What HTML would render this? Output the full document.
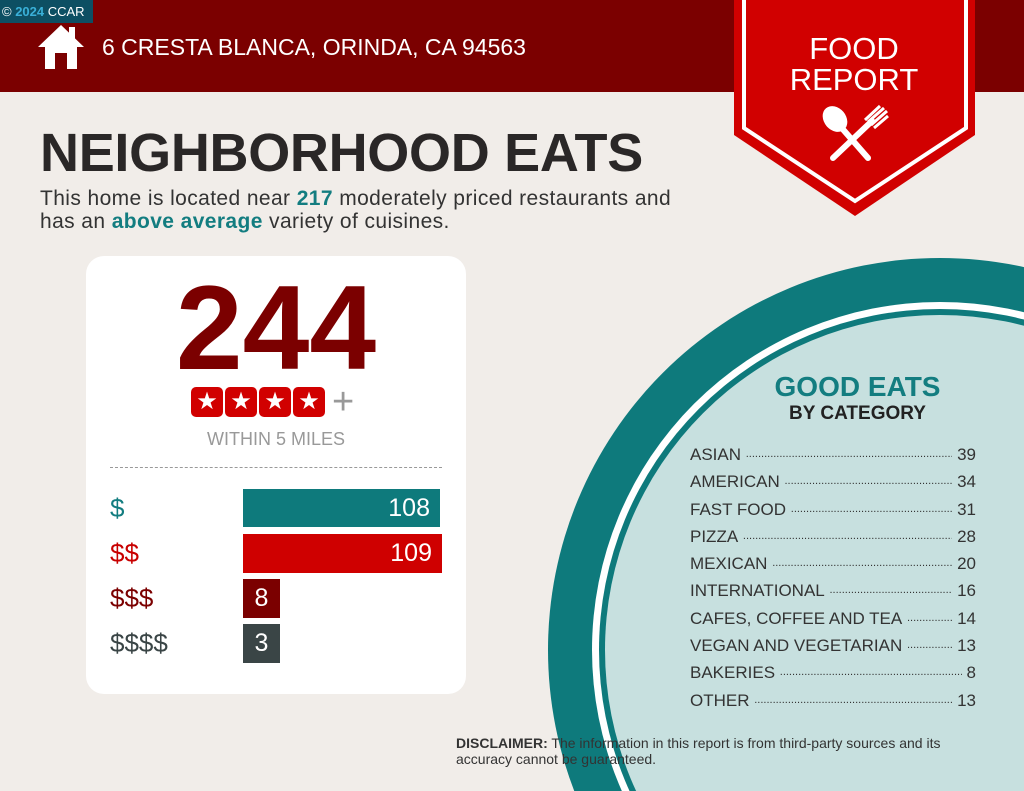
<!DOCTYPE html>
<html><head><meta charset="utf-8"><style>
*{margin:0;padding:0;box-sizing:border-box}
html,body{width:1024px;height:791px;overflow:hidden}
body{background:#f1ede9;font-family:"Liberation Sans",sans-serif;position:relative}
.a{position:absolute;white-space:nowrap}
</style></head><body>
<div class="a" style="left:0;top:0;width:1024px;height:92px;background:#7b0000"></div>
<div class="a" style="left:0;top:0;width:93px;height:23px;background:#0d4f63;color:#fff;font-size:13px;line-height:23px;padding-left:2px">© <b style="color:#3ab0d8">2024</b> CCAR</div>
<svg class="a" style="left:36px;top:23px" width="50" height="48" viewBox="0 0 50 48"><path d="M25 2 L48 24 L41 24 L41 46 L31 46 L31 30 L19 30 L19 46 L9 46 L9 24 L2 24 Z" fill="#fff"/><rect x="33" y="4" width="6" height="12" fill="#fff"/></svg>
<div class="a" style="left:102px;top:33px;color:#fff;font-size:23px;line-height:28px">6 CRESTA BLANCA, ORINDA, CA 94563</div>
<svg class="a" style="left:0;top:0" width="1024" height="791">
<polygon points="734,0 975,0 975,135 855,216 734,135" fill="#d10000"/>
<polyline points="744,0 744,128 855,201 966,128 966,0" fill="none" stroke="#fff" stroke-width="4"/>
<text x="854" y="59" fill="#fff" font-size="31" text-anchor="middle" font-family="Liberation Sans">FOOD</text>
<text x="854" y="90" fill="#fff" font-size="31" text-anchor="middle" font-family="Liberation Sans">REPORT</text>
<ellipse cx="835" cy="119" rx="11" ry="14" transform="rotate(-40 835 119)" fill="#fff"/>
<line x1="840" y1="126" x2="868" y2="158" stroke="#fff" stroke-width="6" stroke-linecap="round"/>
<line x1="872" y1="121" x2="833" y2="158" stroke="#fff" stroke-width="6" stroke-linecap="round"/>
<path d="M868 122 L884 108 M871 125 L887 111 M874 128 L888 116 M865 120 L880 106" stroke="#fff" stroke-width="3"/>
<circle cx="940" cy="650" r="392" fill="#0e7a7c"/>
<circle cx="940" cy="650" r="348" fill="#fff"/>
<circle cx="940" cy="650" r="341" fill="#0e7a7c"/>
<circle cx="940" cy="650" r="335" fill="#c7e0df"/>
</svg>
<div class="a" style="left:40px;top:122px;font-size:54px;font-weight:bold;color:#2a2727;letter-spacing:-0.3px">NEIGHBORHOOD EATS</div>
<div class="a" style="left:40px;top:187px;font-size:21px;line-height:23px;color:#333;letter-spacing:0.4px">This home is located near <b style="color:#137d80">217</b> moderately priced restaurants and<br>has an <b style="color:#137d80">above average</b> variety of cuisines.</div>
<div class="a" style="left:86px;top:256px;width:380px;height:438px;background:#fff;border-radius:18px"></div>
<div class="a" style="left:86px;top:268px;width:380px;text-align:center;font-size:120px;font-weight:bold;color:#7b0000;line-height:120px;letter-spacing:0px">244</div>
<div class="a" style="left:191px;top:387px;display:flex;gap:2px">
<div style="width:32px;height:30px;background:#d10000;border-radius:5px;color:#fff;font-size:24px;text-align:center;line-height:30px">★</div><div style="width:32px;height:30px;background:#d10000;border-radius:5px;color:#fff;font-size:24px;text-align:center;line-height:30px">★</div><div style="width:32px;height:30px;background:#d10000;border-radius:5px;color:#fff;font-size:24px;text-align:center;line-height:30px">★</div><div style="width:32px;height:30px;background:#d10000;border-radius:5px;color:#fff;font-size:24px;text-align:center;line-height:30px">★</div></div>
<div class="a" style="left:332px;top:380px;font-size:38px;color:#999;line-height:44px">+</div>
<div class="a" style="left:86px;top:429px;width:380px;text-align:center;font-size:18px;color:#999">WITHIN 5 MILES</div>
<div class="a" style="left:110px;top:467px;width:332px;border-top:1px dashed #999"></div>
<div class="a" style="left:110px;top:493px;font-size:26px;color:#137d80">$</div>
<div class="a" style="left:110px;top:538px;font-size:26px;color:#c80000">$$</div>
<div class="a" style="left:110px;top:583px;font-size:26px;color:#7b0000">$$$</div>
<div class="a" style="left:110px;top:628px;font-size:26px;color:#3a4546">$$$$</div>
<div class="a" style="left:243px;top:489px;width:197px;height:38px;background:#0e7a7c;color:#fff;font-size:25px;text-align:right;padding-right:10px;line-height:38px">108</div>
<div class="a" style="left:243px;top:534px;width:199px;height:39px;background:#cf0000;color:#fff;font-size:25px;text-align:right;padding-right:10px;line-height:39px">109</div>
<div class="a" style="left:243px;top:579px;width:37px;height:39px;background:#7b0000;color:#fff;font-size:25px;text-align:center;line-height:39px">8</div>
<div class="a" style="left:243px;top:624px;width:37px;height:39px;background:#3a4546;color:#fff;font-size:25px;text-align:center;line-height:39px">3</div>
<div class="a" style="left:700px;top:371px;width:315px;text-align:center;font-size:28px;font-weight:bold;color:#137d80;line-height:32px">GOOD EATS</div>
<div class="a" style="left:700px;top:403px;width:315px;text-align:center;font-size:19px;font-weight:bold;color:#222">BY CATEGORY</div>
<div class="a" style="left:690px;top:441px;width:286px;font-size:17px;color:#333;line-height:27.3px">
<div style="display:flex"><span>ASIAN&nbsp;</span><span style="flex:1;overflow:hidden;font-size:11px">..............................................................................</span><span>&nbsp;39</span></div>
<div style="display:flex"><span>AMERICAN&nbsp;</span><span style="flex:1;overflow:hidden;font-size:11px">..............................................................................</span><span>&nbsp;34</span></div>
<div style="display:flex"><span>FAST FOOD&nbsp;</span><span style="flex:1;overflow:hidden;font-size:11px">..............................................................................</span><span>&nbsp;31</span></div>
<div style="display:flex"><span>PIZZA&nbsp;</span><span style="flex:1;overflow:hidden;font-size:11px">..............................................................................</span><span>&nbsp;28</span></div>
<div style="display:flex"><span>MEXICAN&nbsp;</span><span style="flex:1;overflow:hidden;font-size:11px">..............................................................................</span><span>&nbsp;20</span></div>
<div style="display:flex"><span>INTERNATIONAL&nbsp;</span><span style="flex:1;overflow:hidden;font-size:11px">..............................................................................</span><span>&nbsp;16</span></div>
<div style="display:flex"><span>CAFES, COFFEE AND TEA&nbsp;</span><span style="flex:1;overflow:hidden;font-size:11px">..............................................................................</span><span>&nbsp;14</span></div>
<div style="display:flex"><span>VEGAN AND VEGETARIAN&nbsp;</span><span style="flex:1;overflow:hidden;font-size:11px">..............................................................................</span><span>&nbsp;13</span></div>
<div style="display:flex"><span>BAKERIES&nbsp;</span><span style="flex:1;overflow:hidden;font-size:11px">..............................................................................</span><span>&nbsp;8</span></div>
<div style="display:flex"><span>OTHER&nbsp;</span><span style="flex:1;overflow:hidden;font-size:11px">..............................................................................</span><span>&nbsp;13</span></div>
</div>
<div class="a" style="left:456px;top:735px;font-size:14px;color:#333;line-height:16px"><b>DISCLAIMER:</b> The information in this report is from third-party sources and its<br>accuracy cannot be guaranteed.</div>
</body></html>
